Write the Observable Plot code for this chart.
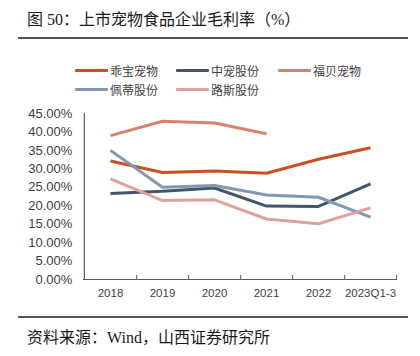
<!DOCTYPE html>
<html>
<head>
<meta charset="utf-8">
<script src="https://cdn.jsdelivr.net/npm/d3@7"></script>
<script src="https://cdn.jsdelivr.net/npm/@observablehq/plot@0.6"></script>
<style>
  html, body { margin: 0; padding: 0; background: #fff; }
  #wrap { position: relative; width: 420px; height: 356px; overflow: hidden; }
  .title { position: absolute; left: 27px; top: 9px; font-family: "Liberation Serif", "Noto Sans CJK SC", serif; font-size: 16px; line-height: 22px; color: #1a1a1a; white-space: nowrap; }
  .rule { position: absolute; left: 18px; width: 390px; height: 1.5px; background: #555; }
  .legend { position: absolute; font-family: "Noto Sans CJK SC", sans-serif; font-size: 12px; color: #404040; }
  .item { position: absolute; display: flex; align-items: center; white-space: nowrap; height: 16px; }
  .sw { width: 33px; height: 3px; margin-right: 2px; border-radius: 1px; }
  .source { position: absolute; left: 27px; top: 327px; font-family: "Liberation Serif", "Noto Sans CJK SC", serif; font-size: 16px; line-height: 22px; color: #1a1a1a; white-space: nowrap; }
  #chart { position: absolute; left: 0; top: 100px; }
</style>
</head>
<body>
<div id="wrap">
  <div class="title">图 50：上市宠物食品企业毛利率（%）</div>
  <div class="rule" style="top:37px"></div>
  <div class="legend" id="legend"></div>
  <div id="chart"></div>
  <div class="rule" style="top:316px"></div>
  <div class="source">资料来源：Wind，山西证券研究所</div>
</div>
<script>
const categories = ["2018", "2019", "2020", "2021", "2022", "2023Q1-3"];
const seriesNames = ["乖宝宠物", "中宠股份", "福贝宠物", "佩蒂股份", "路斯股份"];
const guaibao = [32.1, 29.0, 29.4, 28.8, 32.6, 35.7];
const zhongchong = [23.3, 23.9, 24.8, 19.9, 19.8, 25.9];
const fubei = [39.0, 42.9, 42.4, 39.5, null, null];
const peidi = [35.0, 25.0, 25.5, 22.9, 22.3, 16.9];
const lusi = [27.3, 21.4, 21.6, 16.4, 15.1, 19.4];
const seriesColors = ["#c9511f", "#44546a", "#d7816e", "#8497b0", "#dca29b"];
const yTicks = [0, 5, 10, 15, 20, 25, 30, 35, 40, 45];

const seriesValues = [guaibao, zhongchong, fubei, peidi, lusi];
const rows = [];
seriesNames.forEach((name, i) => {
  seriesValues[i].forEach((v, j) => {
    if (v != null) rows.push({series: name, cat: categories[j], value: v});
  });
});

// legend
const legend = document.getElementById("legend");
const legendPos = [[75, 62], [176, 62], [278, 62], [75, 81], [176, 81]];
seriesNames.forEach((name, i) => {
  const it = document.createElement("div");
  it.className = "item";
  it.style.left = legendPos[i][0] + "px";
  it.style.top = legendPos[i][1] + "px";
  const sw = document.createElement("div");
  sw.className = "sw";
  sw.style.background = seriesColors[i];
  const tx = document.createElement("span");
  tx.textContent = name;
  it.appendChild(sw);
  it.appendChild(tx);
  legend.appendChild(it);
});

const W = 420, H = 205, mL = 83, mR = 23, mT = 13, mB = 26;
const bw = (W - mL - mR) / categories.length;
const axisColor = "#595959";
const labelColor = "#404040";

const chart = Plot.plot({
  width: W, height: H,
  marginLeft: mL, marginRight: mR, marginTop: mT, marginBottom: mB,
  style: {fontFamily: "'Liberation Sans', Arial, sans-serif", background: "transparent"},
  x: {type: "band", domain: categories, padding: 0, axis: null},
  y: {domain: [0, 45], axis: null},
  color: {domain: seriesNames, range: seriesColors},
  marks: [
    Plot.ruleY([0], {stroke: axisColor, strokeWidth: 1.2}),
    Plot.ruleX([categories[0]], {dx: -bw / 2, y1: 0, y2: 45, stroke: axisColor, strokeWidth: 1.2}),
    Plot.ruleX(categories, {x: d => d, dx: bw / 2, y1: 0, y2: 1.1, stroke: axisColor, strokeWidth: 1}),
    Plot.text(yTicks, {x: () => categories[0], y: d => d, dx: -bw / 2 - 12, text: d => d.toFixed(2) + "%", textAnchor: "end", fontSize: 13, fill: labelColor}),
    Plot.text(categories, {x: d => d, y: () => 0, dy: 14, text: d => d, fontSize: 11.5, fill: labelColor}),
    Plot.line(rows, {x: "cat", y: "value", z: "series", stroke: "series", strokeWidth: 3, strokeLinejoin: "miter", strokeLinecap: "butt"})
  ]
});
document.getElementById("chart").appendChild(chart);
</script>
</body>
</html>
